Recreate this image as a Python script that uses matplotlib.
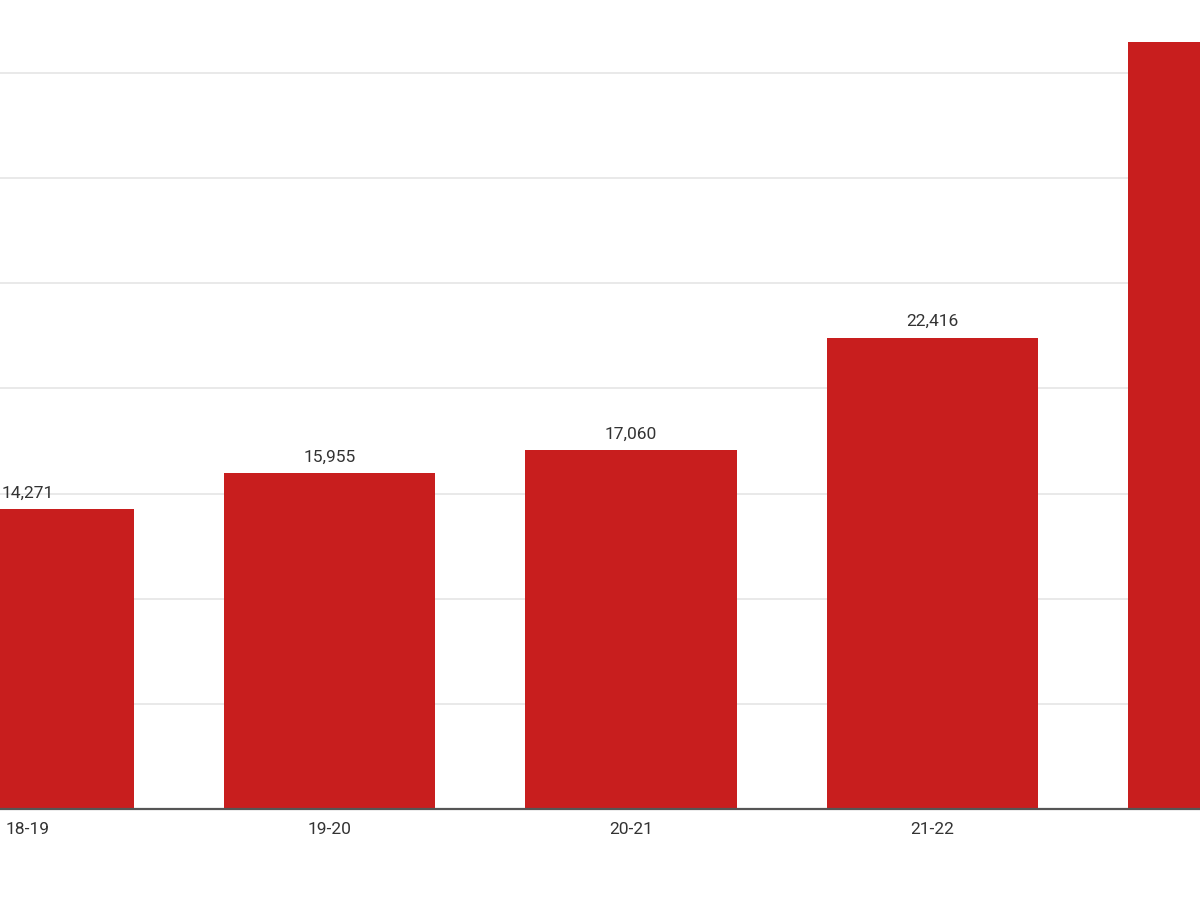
import matplotlib.pyplot as plt

plt.rcParams['font.family'] = ['Roboto', 'DejaVu Sans']

seasons = ['18-19', '19-20', '20-21', '21-22', '22-23']
values = [14271, 15955, 17060, 22416, 36470]
shown_labels = ['14,271', '15,955', '17,060', '22,416', '36,470']

bar_color = '#c81e1e'
text_color = '#333333'

fig = plt.figure(figsize=(12, 9), dpi=100)
# chart is cropped: bars run past both edges of the picture
ax = fig.add_axes([0, 91 / 900, 1, 809 / 900])

x = list(range(len(seasons)))
ax.bar(x, values, width=0.7, color=bar_color, zorder=3)

for xi, v, lab in zip(x, values, shown_labels):
    ax.annotate(lab, (xi, v), xytext=(0, 6), textcoords='offset points',
                ha='center', va='bottom', fontsize=12.5, color=text_color,
                zorder=4)

ax.set_yticks(range(5000, 40000, 5000))
ax.yaxis.grid(True, color='#e3e3e3', linewidth=1.1, zorder=0)
ax.set_yticklabels([])
ax.tick_params(axis='y', length=0)

ax.set_xticks(x)
ax.set_xticklabels(seasons, fontsize=12.5, color=text_color)
ax.tick_params(axis='x', length=0, pad=9)

# limits after set_xticks, otherwise the ticks widen the view
unit = 301.5
ax.set_xlim(-28 / unit, (1200 - 28) / unit)
ax.set_ylim(0, 809 * 5000 / 105.14)

for s in ['top', 'left', 'right']:
    ax.spines[s].set_visible(False)
ax.spines['bottom'].set_color('#555555')
ax.spines['bottom'].set_linewidth(1.6)
ax.spines['bottom'].set_zorder(5)

fig.savefig('out.png', dpi=100)
